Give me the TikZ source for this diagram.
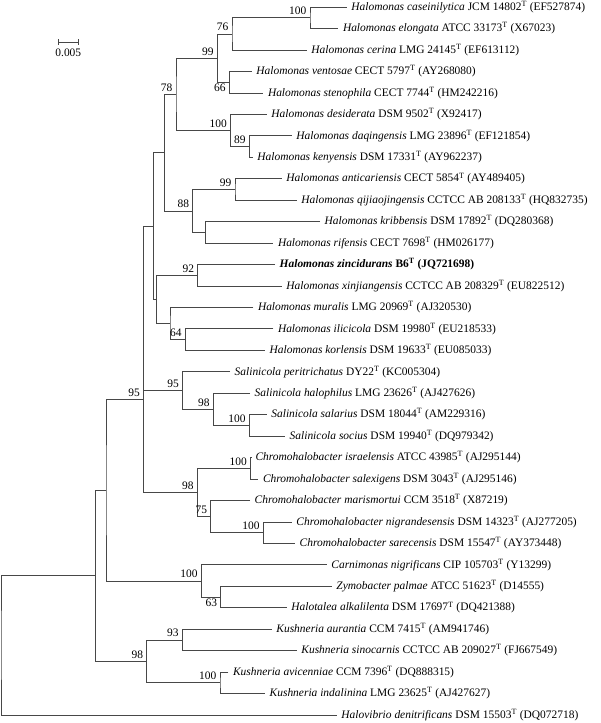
\documentclass[tikz,border=0pt]{standalone}
\usepackage{fontspec}
\setmainfont{Liberation Serif}
\newcommand{\supT}{\textsuperscript{T}}
\begin{document}
\begin{tikzpicture}[x=1pt,y=-1pt,
  br/.style={draw=black!72, line width=0.6pt},
  tip/.style={anchor=west, inner xsep=4.5pt, inner ysep=0pt, font=\fontsize{11.45}{13}\selectfont},
  bs/.style={anchor=south east, inner sep=0pt, xshift=-3.5pt, yshift=2.5pt, font=\fontsize{11.45}{13}\selectfont},
  bsb/.style={anchor=north east, inner sep=0pt, xshift=-3.5pt, yshift=-2pt, font=\fontsize{11.45}{13}\selectfont}]
\useasboundingbox (0,0) rectangle (600,723);
% tips
\node[tip] (t1) at (346.7,7.0) {\textit{Halomonas caseinilytica} JCM 14802\supT{} (EF527874)};
\node[tip] (t2) at (338.3,28.45) {\textit{Halomonas elongata} ATCC 33173\supT{} (X67023)};
\node[tip] (t3) at (306.7,49.9) {\textit{Halomonas cerina} LMG 24145\supT{} (EF613112)};
\node[tip] (t4) at (251.7,71.35) {\textit{Halomonas ventosae} CECT 5797\supT{} (AY268080)};
\node[tip] (t5) at (263.3,92.8) {\textit{Halomonas stenophila} CECT 7744\supT{} (HM242216)};
\node[tip] (t6) at (266.7,114.25) {\textit{Halomonas desiderata} DSM 9502\supT{} (X92417)};
\node[tip] (t7) at (291.7,135.7) {\textit{Halomonas daqingensis} LMG 23896\supT{} (EF121854)};
\node[tip] (t8) at (252.7,157.15) {\textit{Halomonas kenyensis} DSM 17331\supT{} (AY962237)};
\node[tip] (t9) at (281.7,178.6) {\textit{Halomonas anticariensis} CECT 5854\supT{} (AY489405)};
\node[tip] (t10) at (296.7,200.05) {\textit{Halomonas qijiaojingensis} CCTCC AB 208133\supT{} (HQ832735)};
\node[tip] (t11) at (320,221.5) {\textit{Halomonas kribbensis} DSM 17892\supT{} (DQ280368)};
\node[tip] (t12) at (273.3,242.95) {\textit{Halomonas rifensis} CECT 7698\supT{} (HM026177)};
\node[tip] (t13) at (275,264.4) {\bfseries\textit{Halomonas zincidurans} B6\supT{} (JQ721698)};
\node[tip] (t14) at (281.7,285.85) {\textit{Halomonas xinjiangensis} CCTCC AB 208329\supT{} (EU822512)};
\node[tip] (t15) at (253.3,307.3) {\textit{Halomonas muralis} LMG 20969\supT{} (AJ320530)};
\node[tip] (t16) at (273.3,328.75) {\textit{Halomonas ilicicola} DSM 19980\supT{} (EU218533)};
\node[tip] (t17) at (265,350.2) {\textit{Halomonas korlensis} DSM 19633\supT{} (EU085033)};
\node[tip] (t18) at (230,371.65) {\textit{Salinicola peritrichatus} DY22\supT{} (KC005304)};
\node[tip] (t19) at (250,393.1) {\textit{Salinicola halophilus} LMG 23626\supT{} (AJ427626)};
\node[tip] (t20) at (266.7,414.55) {\textit{Salinicola salarius} DSM 18044\supT{} (AM229316)};
\node[tip] (t21) at (285,436.0) {\textit{Salinicola socius} DSM 19940\supT{} (DQ979342)};
\node[tip] (t22) at (250.8,457.45) {\textit{Chromohalobacter israelensis} ATCC 43985\supT{} (AJ295144)};
\node[tip] (t23) at (258.3,478.9) {\textit{Chromohalobacter salexigens} DSM 3043\supT{} (AJ295146)};
\node[tip] (t24) at (250,500.35) {\textit{Chromohalobacter marismortui} CCM 3518\supT{} (X87219)};
\node[tip] (t25) at (291.7,521.8) {\textit{Chromohalobacter nigrandesensis} DSM 14323\supT{} (AJ277205)};
\node[tip] (t26) at (295,543.25) {\textit{Chromohalobacter sarecensis} DSM 15547\supT{} (AY373448)};
\node[tip] (t27) at (326.7,564.7) {\textit{Carnimonas nigrificans} CIP 105703\supT{} (Y13299)};
\node[tip] (t28) at (331.7,586.15) {\textit{Zymobacter palmae} ATCC 51623\supT{} (D14555)};
\node[tip] (t29) at (286.7,607.6) {\textit{Halotalea alkalilenta} DSM 17697\supT{} (DQ421388)};
\node[tip] (t30) at (271.7,629.05) {\textit{Kushneria aurantia} CCM 7415\supT{} (AM941746)};
\node[tip] (t31) at (296.7,650.5) {\textit{Kushneria sinocarnis} CCTCC AB 209027\supT{} (FJ667549)};
\node[tip] (t32) at (228.3,671.95) {\textit{Kushneria avicenniae} CCM 7396\supT{} (DQ888315)};
\node[tip] (t33) at (265,693.4) {\textit{Kushneria indalinina} LMG 23625\supT{} (AJ427627)};
\node[tip] (t34) at (336.7,714.85) {\textit{Halovibrio denitrificans} DSM 15503\supT{} (DQ072718)};
% internal nodes
\coordinate (n100a) at (310,17.7);
\coordinate (n76) at (232,33.8);
\coordinate (n66) at (229.3,82.1);
\coordinate (n99a) at (217.3,57.9);
\coordinate (n89) at (249.3,146.4);
\coordinate (n100b) at (230.5,130.3);
\coordinate (n78) at (176,94.1);
\coordinate (n99b) at (235,189.3);
\coordinate (nkr) at (205.7,232.2);
\coordinate (n88) at (192.7,210.8);
\coordinate (nA) at (164.3,152.4);
\coordinate (n92) at (197.7,275.1);
\coordinate (n64) at (185.3,339.5);
\coordinate (nH) at (170,323.4);
\coordinate (nG) at (156.7,299.3);
\coordinate (nB) at (153.3,225.8);
\coordinate (n100c) at (249.3,425.3);
\coordinate (n98a) at (213.3,409.2);
\coordinate (n95a) at (182.5,390.4);
\coordinate (n100d) at (250.5,468.2);
\coordinate (n100e) at (263.3,532.5);
\coordinate (n75) at (210.7,516.4);
\coordinate (n98b) at (197.3,492.3);
\coordinate (nC) at (143.5,399.3);
\coordinate (n63) at (220.7,596.9);
\coordinate (n100f) at (201.3,580.8);
\coordinate (nE) at (106,490);
\coordinate (n93) at (182.3,639.8);
\coordinate (n100g) at (220,682.7);
\coordinate (n98c) at (146.7,661.2);
\coordinate (nD) at (95.7,575.6);
\coordinate (root) at (1,645.2);
% branches
\draw[br] (t1.west) -| (n100a) |- (t2.west);
\draw[br] (n100a) -| (n76) |- (t3.west);
\draw[br] (t4.west) -| (n66) |- (t5.west);
\draw[br] (n76) -| (n99a) |- (n66);
\draw[br] (t7.west) -| (n89) |- (t8.west);
\draw[br] (t6.west) -| (n100b) |- (n89);
\draw[br] (n99a) -| (n78) |- (n100b);
\draw[br] (t9.west) -| (n99b) |- (t10.west);
\draw[br] (t11.west) -| (nkr) |- (t12.west);
\draw[br] (n99b) -| (n88) |- (nkr);
\draw[br] (n78) -| (nA) |- (n88);
\draw[br] (t13.west) -| (n92) |- (t14.west);
\draw[br] (t16.west) -| (n64) |- (t17.west);
\draw[br] (t15.west) -| (nH) |- (n64);
\draw[br] (n92) -| (nG) |- (nH);
\draw[br] (nA) -| (nB) |- (nG);
\draw[br] (t20.west) -| (n100c) |- (t21.west);
\draw[br] (t19.west) -| (n98a) |- (n100c);
\draw[br] (t18.west) -| (n95a) |- (n98a);
\draw[br] (t22.west) -| (n100d) |- (t23.west);
\draw[br] (t25.west) -| (n100e) |- (t26.west);
\draw[br] (t24.west) -| (n75) |- (n100e);
\draw[br] (n100d) -| (n98b) |- (n75);
\draw[br] (nB) -| (nC) |- (n98b);
\draw[br] (nC |- n95a) -- (n95a);
\draw[br] (t28.west) -| (n63) |- (t29.west);
\draw[br] (t27.west) -| (n100f) |- (n63);
\draw[br] (nC) -| (nE) |- (n100f);
\draw[br] (t30.west) -| (n93) |- (t31.west);
\draw[br] (t32.west) -| (n100g) |- (t33.west);
\draw[br] (n93) -| (n98c) |- (n100g);
\draw[br] (nE) -| (nD) |- (n98c);
\draw[br] (nD) -| (root) |- (t34.west);
% bootstrap values
\node[bs] (b1) at (n100a) {100};
\node[bs] (b2) at (n76) {76};
\node[bs] (b3) at (n99a) {99};
\node[bsb] (b4) at (n66) {66};
\node[bs] (b5) at (n78) {78};
\node[bs] (b6) at (n100b) {100};
\node[bs] (b7) at (n89) {89};
\node[bs] (b8) at (n99b) {99};
\node[bs] (b9) at (n88) {88};
\node[bs] (b10) at (n92) {92};
\node[bs] (b11) at (n64) {64};
\node[bs] (b12) at (n95a) {95};
\node[bs] (b13) at (nC) {95};
\node[bs] (b14) at (n98a) {98};
\node[bs] (b15) at (n100c) {100};
\node[bs] (b16) at (n100d) {100};
\node[bs] (b17) at (n98b) {98};
\node[bs] (b18) at (n75) {75};
\node[bs] (b19) at (n100e) {100};
\node[bs] (b20) at (n100f) {100};
\node[bsb] (b21) at (n63) {63};
\node[bs] (b22) at (n93) {93};
\node[bs] (b23) at (n98c) {98};
\node[bs] (b24) at (n100g) {100};
% scale bar
\coordinate (sbl) at (58.3,42.3);
\coordinate (sbr) at (78.3,42.3);
\draw[br] (sbl) -- (sbr);
\draw[br] ([yshift=3pt]sbl) -- ([yshift=-2.5pt]sbl);
\draw[br] ([yshift=3pt]sbr) -- ([yshift=-2.5pt]sbr);
\node[inner sep=0pt, font=\fontsize{11.45}{13}\selectfont] (sbt) at (68.3,52.5) {0.005};
\end{tikzpicture}
\end{document}
